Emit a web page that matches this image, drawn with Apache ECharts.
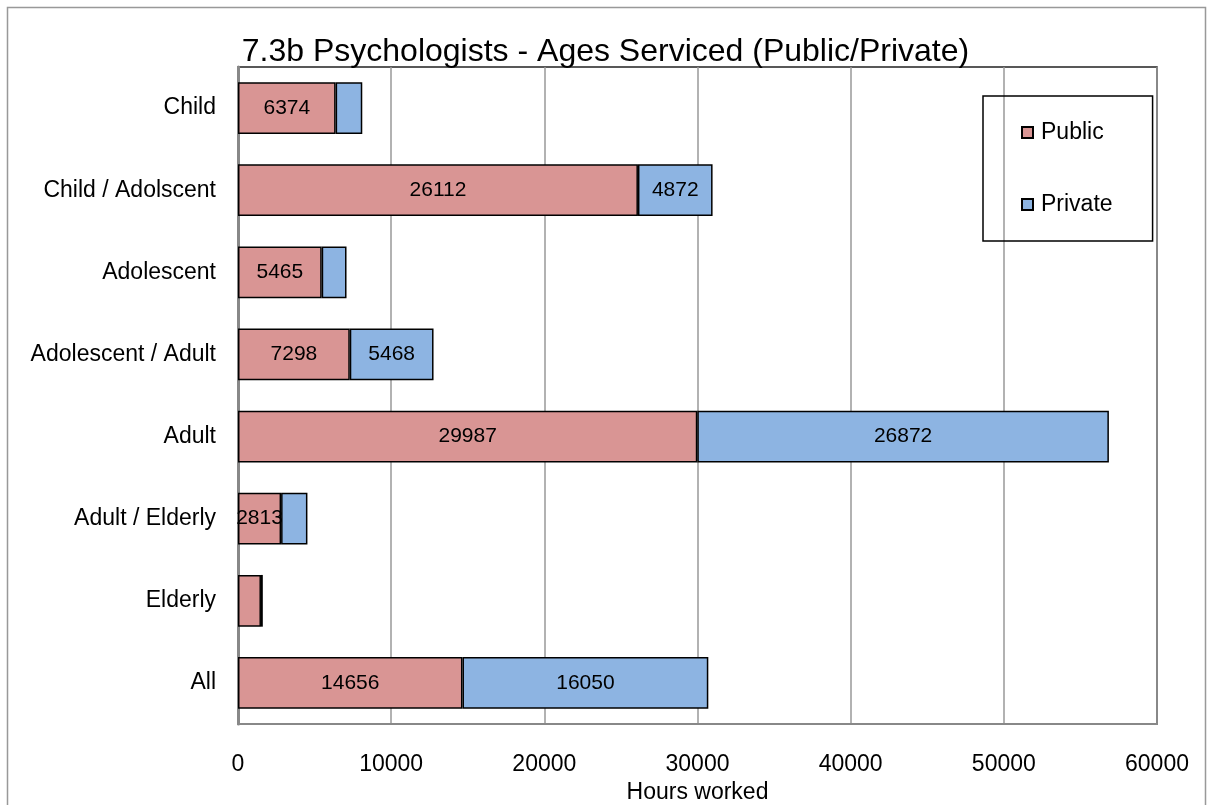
<!DOCTYPE html>
<html>
<head>
<meta charset="utf-8">
<script src="https://cdn.jsdelivr.net/npm/echarts@6/dist/echarts.min.js"></script>
<style>
  html, body { margin: 0; padding: 0; background: #fff; }
  #chart { width: 1211px; height: 805px; }
</style>
</head>
<body>
<div id="chart"></div>
<script>
const categories = ['Child', 'Child / Adolscent', 'Adolescent', 'Adolescent / Adult', 'Adult', 'Adult / Elderly', 'Elderly', 'All']
const publicHours = [6374, 26112, 5465, 7298, 29987, 2813, 1500, 14656]
const privateHours = [1740, 4872, 1620, 5468, 26872, 1720, 120, 16050]
const xTicks = [0, 10000, 20000, 30000, 40000, 50000, 60000]

const chart = echarts.init(document.getElementById('chart'))

// hide labels on segments too small to hold them
const labelFmt = p => (p.value >= 2000 ? String(p.value) : '')

const barLabel = {
  show: true,
  position: 'inside',
  color: '#000',
  fontSize: 21,
  fontFamily: 'Liberation Sans',
  padding: [8, 0, 0, 0],
  formatter: labelFmt
}

const option = {
  backgroundColor: '#fff',
  title: {
    text: '7.3b Psychologists - Ages Serviced (Public/Private)',
    left: 'center',
    top: 31,
    textStyle: { fontSize: 32, fontWeight: 'normal', color: '#000', fontFamily: 'Liberation Sans' }
  },
  graphic: [{
    type: 'rect',
    shape: { x: 7.5, y: 7.5, width: 1198, height: 830 },
    style: { fill: 'none', stroke: '#999', lineWidth: 1.5 },
    silent: true
  }],
  legend: {
    orient: 'vertical',
    left: 983,
    top: 96,
    padding: [25, 40, 25, 38],
    itemGap: 49,
    itemWidth: 11,
    itemHeight: 11,
    icon: 'rect',
    borderColor: '#000',
    borderWidth: 1.5,
    textStyle: { fontSize: 23, color: '#000', fontFamily: 'Liberation Sans', padding: [0, 0, 0, 3] },
    data: ['Public', 'Private']
  },
  grid: {
    left: 238,
    right: 54,
    top: 67,
    bottom: 81,
    outerBoundsMode: 'none',
    containLabel: false,
    show: true,
    borderColor: '#222',
    borderWidth: 1.5
  },
  xAxis: {
    type: 'value',
    min: xTicks[0],
    max: xTicks[xTicks.length - 1],
    interval: 10000,
    name: 'Hours worked',
    nameLocation: 'middle',
    nameGap: 49,
    nameTextStyle: { fontSize: 23, color: '#000', fontFamily: 'Liberation Sans' },
    axisLine: { show: true, lineStyle: { color: '#888', width: 2 } },
    axisTick: { show: false },
    axisLabel: { fontSize: 23, color: '#000', margin: 29, fontFamily: 'Liberation Sans', formatter: v => String(v) },
    splitLine: { show: true, lineStyle: { color: '#999', width: 1.5 } }
  },
  yAxis: {
    type: 'category',
    inverse: true,
    data: categories,
    axisLine: { show: true, lineStyle: { color: '#888', width: 3 } },
    axisTick: { show: false },
    axisLabel: { fontSize: 23, color: '#000', margin: 22, fontFamily: 'Liberation Sans', padding: [10, 0, 0, 0] }
  },
  series: [
    {
      name: 'Public',
      type: 'bar',
      stack: 'hours',
      barCategoryGap: '37%',
      data: publicHours,
      itemStyle: { color: '#D99594', borderColor: '#000', borderWidth: 1.5 },
      label: barLabel
    },
    {
      name: 'Private',
      type: 'bar',
      stack: 'hours',
      barCategoryGap: '37%',
      data: privateHours,
      itemStyle: { color: '#8DB4E2', borderColor: '#000', borderWidth: 1.5 },
      label: barLabel
    }
  ]
}

chart.setOption(option)
</script>
</body>
</html>
